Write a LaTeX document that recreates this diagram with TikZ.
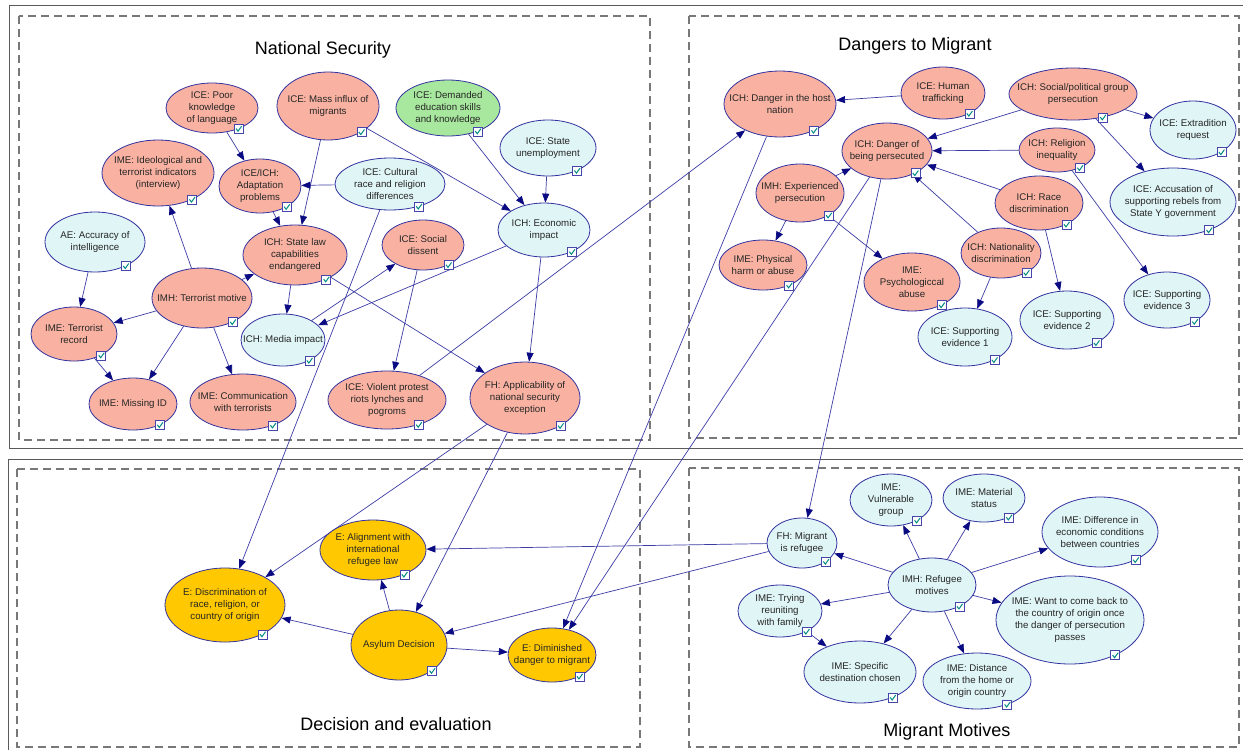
\documentclass[tikz,border=0pt]{standalone}
\usepackage{fontspec}
\setmainfont{Liberation Sans}
\usetikzlibrary{shapes.geometric,arrows.meta}
\definecolor{sal}{RGB}{249,178,162}
\definecolor{cy}{RGB}{224,245,246}
\definecolor{gr}{RGB}{168,232,158}
\definecolor{gold}{RGB}{255,200,0}
\definecolor{bord}{RGB}{50,50,160}
\definecolor{edgec}{RGB}{60,60,165}
\definecolor{arrc}{RGB}{10,10,130}
\definecolor{ckb}{RGB}{70,70,170}
\definecolor{ckm}{RGB}{0,140,130}
\definecolor{pan}{RGB}{90,90,90}
\definecolor{dsh}{RGB}{120,120,120}
\pgfdeclarelayer{bg}\pgfsetlayers{bg,main}
\tikzset{
 bn/.style={ellipse,draw=bord,line width=0.8pt,inner sep=0pt},
 lab/.style={align=center,font=\fontsize{9.7}{12.2}\selectfont,text=black!85,inner sep=0pt},
 ed/.style={draw=edgec,line width=0.7pt,-{Triangle[length=9pt,width=7pt,color=arrc]}},
 ckframe/.style={draw=ckb,fill=white,line width=0.6pt},
 ckmark/.style={draw=ckm,line width=1pt},
 panel/.style={draw=pan,line width=1pt},
 dpanel/.style={draw=dsh,line width=1.2pt,dash pattern=on 8pt off 5pt},
 ttl/.style={font=\fontsize{18}{20}\selectfont,text=black,inner sep=0pt}
}
\newcommand\bnode[6]{\node[bn,fill=#1,minimum width=#4pt,minimum height=#5pt,label={[lab]center:{#6}}] (#2) at (#3) {};
 \begin{scope}[shift={(#2.-38)}]\draw[ckframe] (-4.5,-4.5) rectangle (4.5,4.5);\draw[ckmark] (-2.6,-0.2) -- (-0.6,2.4) -- (3,-2.6);\end{scope}}
\begin{document}
\begin{tikzpicture}[x=1pt,y=-1pt]
\useasboundingbox (0,0) rectangle (1243,750);
\begin{pgfonlayer}{bg}
\fill[white] (0,0) rectangle (1243,750);
\draw[panel] (9.5,5.5) rectangle (1255,448.5);
\draw[panel] (8.5,459) rectangle (1255,760);
\draw[dpanel] (19,16) rectangle (650,440);
\draw[dpanel] (689,16) rectangle (1239,438);
\draw[dpanel] (17,469) rectangle (640,747);
\draw[dpanel] (689,468) rectangle (1239,747);
\end{pgfonlayer}
\node[ttl] (tns) at (323,50) {National Security};
\node[ttl] (tdm) at (915,46) {Dangers to Migrant};
\node[ttl] (tde) at (396,724) {Decision and evaluation};
\node[ttl] (tmm) at (947,732) {Migrant Motives};
% National Security
\bnode{sal}{poor}{212,108}{92}{50}{ICE: Poor\\knowledge\\of language}
\bnode{sal}{mass}{328,106}{102}{68}{ICE: Mass influx of\\migrants}
\bnode{gr}{demand}{448,108}{104}{56}{ICE: Demanded\\education skills\\and knowledge}
\bnode{cy}{unemp}{548,148}{96}{56}{ICE: State\\unemployment}
\bnode{sal}{ideo}{158,173}{112}{66}{IME: Ideological and\\terrorist indicators\\(interview)}
\bnode{sal}{adapt}{260,186}{82}{54}{ICE/ICH:\\Adaptation\\problems}
\bnode{cy}{cult}{390,184}{110}{52}{ICE: Cultural\\race and religion\\differences}
\bnode{cy}{econ}{544,230}{92}{54}{ICH: Economic\\impact}
\bnode{cy}{acc}{95,242}{100}{60}{AE: Accuracy of\\intelligence}
\bnode{sal}{state}{295,255}{104}{60}{ICH: State law\\capabilities\\endangered}
\bnode{sal}{social}{423,245}{82}{50}{ICE: Social\\dissent}
\bnode{sal}{terror}{202,298}{100}{60}{IMH: Terrorist motive}
\bnode{sal}{trec}{74,334}{86}{54}{IME: Terrorist\\record}
\bnode{cy}{media}{283,340}{84}{52}{ICH: Media impact}
\bnode{sal}{missing}{133,404}{88}{52}{IME: Missing ID}
\bnode{sal}{comm}{243,402}{106}{56}{IME: Communication\\with terrorists}
\bnode{sal}{violent}{387,400}{118}{58}{ICE: Violent protest\\riots lynches and\\pogroms}
\bnode{sal}{fh}{525,398}{110}{72}{FH: Applicability of\\national security\\exception}
% Dangers to Migrant
\bnode{sal}{host}{780,104}{112}{66}{ICH: Danger in the host\\nation}
\bnode{sal}{traff}{943,93}{84}{52}{ICE: Human\\trafficking}
\bnode{sal}{socpol}{1073,94}{128}{52}{ICH: Social/political group\\persecution}
\bnode{cy}{extrad}{1193,130}{86}{58}{ICE: Extradition\\request}
\bnode{sal}{persec}{887,151}{90}{56}{ICH: Danger of\\being persecuted}
\bnode{sal}{relig}{1057,150}{76}{44}{ICH: Religion\\inequality}
\bnode{sal}{exper}{800,193}{88}{58}{IMH: Experienced\\persecution}
\bnode{sal}{race}{1039,203}{88}{54}{ICH: Race\\discrimination}
\bnode{cy}{accus}{1173,202}{126}{68}{ICE: Accusation of\\supporting rebels from\\State Y government}
\bnode{sal}{nation}{1001,253}{80}{50}{ICH: Nationality\\discrimination}
\bnode{sal}{phys}{763,265}{88}{50}{IME: Physical\\harm or abuse}
\bnode{sal}{psych}{912,282}{96}{58}{IME:\\Psychologiccal\\abuse}
\bnode{cy}{ev1}{965,337}{94}{58}{ICE: Supporting\\evidence 1}
\bnode{cy}{ev2}{1067,320}{94}{58}{ICE: Supporting\\evidence 2}
\bnode{cy}{ev3}{1167,300}{86}{56}{ICE: Supporting\\evidence 3}
% Decision and evaluation
\bnode{gold}{discr}{225,605}{120}{74}{E: Discrimination of\\race, religion, or\\country of origin}
\bnode{gold}{align}{373,550}{106}{60}{E: Alignment with\\international\\refugee law}
\bnode{gold}{asylum}{399,645}{96}{70}{Asylum Decision}
\bnode{gold}{dimin}{552,655}{88}{54}{E: Diminished\\danger to migrant}
% Migrant Motives
\bnode{cy}{fhm}{802,543}{70}{50}{FH: Migrant\\is refugee}
\bnode{cy}{vuln}{891,500}{82}{52}{IME:\\Vulnerable\\group}
\bnode{cy}{mat}{984,498}{82}{48}{IME: Material\\status}
\bnode{cy}{diff}{1100,532}{116}{70}{IME: Difference in\\economic conditions\\between countries}
\bnode{cy}{refm}{932,585}{88}{54}{IMH: Refugee\\motives}
\bnode{cy}{reunite}{780,611}{84}{52}{IME: Trying\\reuniting\\with family}
\bnode{cy}{want}{1070,620}{148}{88}{IME: Want to come back to\\the country of origin once\\the danger of persecution\\passes}
\bnode{cy}{spec}{860,672}{112}{62}{IME: Specific\\destination chosen}
\bnode{cy}{dist}{977,681}{108}{56}{IME: Distance\\from the home or\\origin country}
\begin{pgfonlayer}{bg}
\foreach \a/\b in {poor/adapt,mass/state,mass/econ,cult/adapt,demand/econ,unemp/econ,adapt/state,terror/ideo,terror/state,acc/trec,terror/trec,terror/missing,terror/comm,trec/missing,state/media,state/fh,media/social,econ/media,social/violent,econ/fh,cult/discr,violent/host,fh/discr,fh/asylum,
 traff/host,socpol/persec,socpol/extrad,socpol/accus,relig/persec,race/persec,nation/persec,exper/persec,exper/phys,exper/psych,nation/ev1,race/ev2,relig/ev3,host/dimin,persec/dimin,persec/fhm,
 refm/fhm,refm/vuln,refm/mat,refm/diff,refm/want,refm/dist,refm/spec,refm/reunite,reunite/spec,fhm/align,fhm/asylum,
 asylum/align,asylum/discr,asylum/dimin}
 {\draw[ed] (\a) -- (\b);}
\end{pgfonlayer}
\end{tikzpicture}
\end{document}
